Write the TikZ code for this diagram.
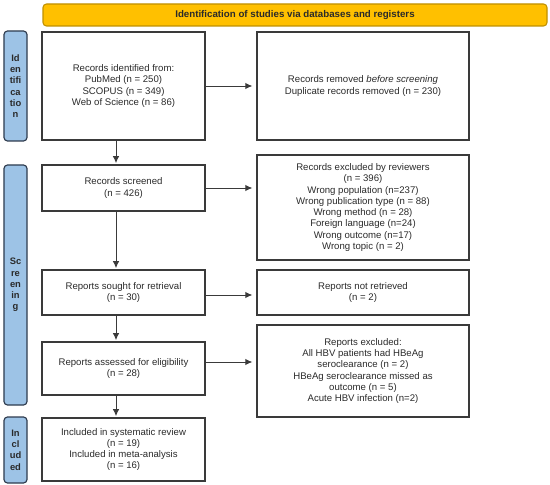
\documentclass[tikz,border=0pt]{standalone}
\usepackage{fontspec}
\setmainfont{Liberation Sans}
\usetikzlibrary{arrows.meta,calc}
\definecolor{titlefill}{HTML}{FFC000}
\definecolor{titleline}{HTML}{BF9000}
\definecolor{phasefill}{HTML}{9DC3E6}
\definecolor{phaseline}{HTML}{2E3B4E}
\definecolor{boxline}{HTML}{3A3A3A}
\definecolor{txt}{HTML}{2A2A2A}

\begin{document}
\begin{tikzpicture}[
  txtfont/.style={font=\fontsize{8.2}{9.6}\selectfont, text=txt},
  flowbox/.style={rectangle, draw=boxline, line width=1.1pt, inner sep=2pt, align=center, txtfont},
  leftbox/.style={flowbox, minimum width=4.89cm},
  rightbox/.style={flowbox, minimum width=6.36cm},
  phase/.style={rectangle, rounded corners=3pt, draw=phaseline, fill=phasefill, line width=1pt,
    minimum width=0.69cm, inner sep=0pt, align=center, font=\fontsize{8}{9.6}\selectfont\bfseries, text=txt},
  flow/.style={-{Latex[length=6pt,width=5.5pt]}, draw=boxline, line width=0.8pt}
]
\useasboundingbox (0,0) rectangle (16.5,-14.55);

% header
\node[rectangle, rounded corners=3pt, draw=titleline, fill=titlefill, line width=0.9pt,
  minimum width=15.12cm, minimum height=0.66cm, inner sep=0pt,
  font=\fontsize{8.3}{10}\selectfont\bfseries, text=txt] (head) at (8.85,-0.45)
  {Identification of studies via databases and registers};

% phases
\node[phase, minimum height=3.3cm] (P1) at (0.465,-2.58) {Id\\en\\tifi\\ca\\tio\\n};
\node[phase, minimum height=7.2cm] (P2) at (0.465,-8.55) {Sc\\re\\en\\in\\g};
\node[phase, minimum height=1.98cm] (P3) at (0.465,-13.5) {In\\cl\\ud\\ed};

% flow boxes
\node[leftbox, minimum height=3.24cm] (ident) at (3.705,-2.58)
  {Records identified from:\\PubMed (n = 250)\\SCOPUS (n = 349)\\Web of Science (n = 86)};
\node[rightbox, minimum height=3.24cm] (removed) at (10.89,-2.58)
  {Records removed \textit{before screening}\\Duplicate records removed (n = 230)};
\node[leftbox, minimum height=1.38cm] (screened) at (3.705,-5.64)
  {Records screened\\(n = 426)};
\node[rightbox, minimum height=3.15cm] (excl) at (10.89,-6.225)
  {Records excluded by reviewers\\(n = 396)\\Wrong population (n=237)\\Wrong publication type (n = 88)\\Wrong method (n = 28)\\Foreign language (n=24)\\Wrong outcome (n=17)\\Wrong topic (n = 2)};
\node[leftbox, minimum height=1.35cm] (sought) at (3.705,-8.775)
  {Reports sought for retrieval\\(n = 30)};
\node[rightbox, minimum height=1.35cm] (notret) at (10.89,-8.775)
  {Reports not retrieved\\(n = 2)};
\node[leftbox, minimum height=1.59cm] (assessed) at (3.705,-11.055)
  {Reports assessed for eligibility\\(n = 28)};
\node[rightbox, minimum height=2.76cm] (repexcl) at (10.89,-11.13)
  {Reports excluded:\\All HBV patients had HBeAg\\seroclearance (n = 2)\\HBeAg seroclearance missed as\\outcome (n = 5)\\Acute HBV infection (n=2)};
\node[leftbox, minimum height=1.89cm] (incl) at (3.705,-13.485)
  {Included in systematic review\\(n = 19)\\Included in meta-analysis\\(n = 16)};

% arrows down
\draw[flow, shorten >=1pt] ([xshift=-0.225cm]ident.south) -- ([xshift=-0.225cm]screened.north);
\draw[flow, shorten >=1pt] ([xshift=-0.225cm]screened.south) -- ([xshift=-0.225cm]sought.north);
\draw[flow, shorten >=1pt] ([xshift=-0.225cm]sought.south) -- ([xshift=-0.225cm]assessed.north);
\draw[flow, shorten >=1pt] ([xshift=-0.225cm]assessed.south) -- ([xshift=-0.225cm]incl.north);

% arrows right
\draw[flow, shorten >=3.4pt] (ident.east) -- (ident.east -| removed.west);
\draw[flow, shorten >=3.4pt] (screened.east) -- (screened.east -| excl.west);
\draw[flow, shorten >=3.4pt] ([yshift=-0.075cm]sought.east) -- ([yshift=-0.075cm]sought.east -| notret.west);
\draw[flow, shorten >=3.4pt] ([yshift=0.195cm]assessed.east) -- ([yshift=0.195cm]assessed.east -| repexcl.west);

\end{tikzpicture}
\end{document}
